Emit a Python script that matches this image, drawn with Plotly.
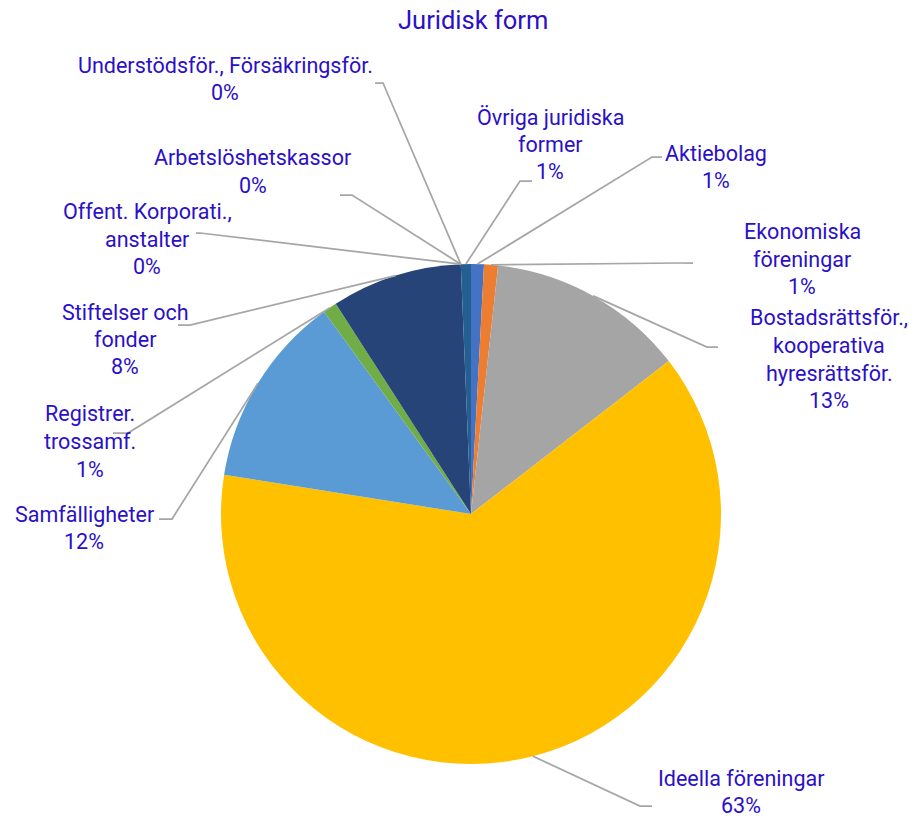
import math
import plotly.graph_objects as go

# ---- data ----
categories = [
    "Aktiebolag",
    "Ekonomiska föreningar",
    "Bostadsrättsför., kooperativa hyresrättsför.",
    "Ideella föreningar",
    "Samfälligheter",
    "Registrer. trossamf.",
    "Stiftelser och fonder",
    "Offent. Korporati., anstalter",
    "Arbetslöshetskassor",
    "Understödsför., Försäkringsför.",
    "Övriga juridiska former",
]
values = [0.83, 0.9, 12.8, 63.0, 12.5, 0.9, 8.45, 0.0, 0.0, 0.0, 0.65]

# label line breaks as in the reference
label_lines = [
    ["Aktiebolag"],
    ["Ekonomiska", "föreningar"],
    ["Bostadsrättsför.,", "kooperativa", "hyresrättsför."],
    ["Ideella föreningar"],
    ["Samfälligheter"],
    ["Registrer.", "trossamf."],
    ["Stiftelser och", "fonder"],
    ["Offent. Korporati.,", "anstalter"],
    ["Arbetslöshetskassor"],
    ["Understödsför., Försäkringsför."],
    ["Övriga juridiska", "former"],
]

colors = ["#4472C4", "#ED7D31", "#A5A5A5", "#FFC000", "#5B9BD5", "#70AD47",
          "#264478", "#9E480E", "#636363", "#997300", "#255E91"]

# ---- layout constants (pixels) ----
W, H = 918, 818
CX, CY, R = 471, 514, 250
TEXT_COLOR = "#2A10C8"
LINE_COLOR = "#A6A6A6"
FONT = "Roboto"
LBL_SIZE = 21.5
TITLE_SIZE = 25.5
LINE_GAP = 27.5

# label placement: (text centre x, first line centre y, elbow x, elbow y, end x, end y)
label_pos = [
    (716, 153, 652, 157, 662, 157),
    (802, 232, 680, 263, 693, 263),
    (829, 318, 707, 347, 718, 347),
    (741, 778, 640, 806, 652, 806),
    (84, 514, 172, 519, 159, 519),
    (90, 414, 128, 433, 113, 433),
    (125, 312, 190, 325, 178, 325),
    (147, 212, 200, 233, 196, 233),
    (253, 158, 352, 195, 340, 195),
    (225, 65, 383, 83, 375, 83),
    (550, 117, 520, 181, 532, 181),
]


def px(x):
    return x / W


def py(y):
    return 1 - y / H


fig = go.Figure()
fig.add_trace(go.Pie(
    labels=categories,
    values=values,
    sort=False,
    direction="clockwise",
    rotation=0,
    marker=dict(colors=colors, line=dict(width=0)),
    textinfo="none",
    hoverinfo="label+percent",
    showlegend=False,
    domain=dict(x=[px(CX - R), px(CX + R)], y=[py(CY + R), py(CY - R)]),
))

total = sum(values)
cum = 0.0
annotations = []
shapes = []
for cat, v, lines, pos in zip(categories, values, label_lines, label_pos):
    mid = (cum + v / 2) / total * 2 * math.pi
    cum += v
    sx = CX + R * math.sin(mid)
    sy = CY - R * math.cos(mid)
    tx, ty, ex, ey, hx, hy = pos
    shapes.append(dict(
        type="path",
        path=f"M {px(sx)} {py(sy)} L {px(ex)} {py(ey)} L {px(hx)} {py(hy)}",
        xref="paper", yref="paper",
        line=dict(color=LINE_COLOR, width=1.75),
    ))
    pct = f"{round(v / total * 100)}%"
    for i, t in enumerate(lines + [pct]):
        annotations.append(dict(
            x=px(tx), y=py(ty + i * LINE_GAP), xref="paper", yref="paper",
            text=t, showarrow=False, xanchor="center", yanchor="middle",
            font=dict(family=FONT, size=LBL_SIZE, color=TEXT_COLOR),
        ))

annotations.append(dict(
    x=px(473), y=py(20), xref="paper", yref="paper",
    text="Juridisk form", showarrow=False, xanchor="center", yanchor="middle",
    font=dict(family=FONT, size=TITLE_SIZE, color=TEXT_COLOR),
))

fig.update_layout(
    width=W, height=H,
    margin=dict(l=0, r=0, t=0, b=0),
    paper_bgcolor="white",
    plot_bgcolor="white",
    annotations=annotations,
    shapes=shapes,
)

fig.write_html(
    "out.html",
    config={"displayModeBar": False},
    post_script="document.body.style.margin='0';document.body.style.overflow='hidden';",
)
